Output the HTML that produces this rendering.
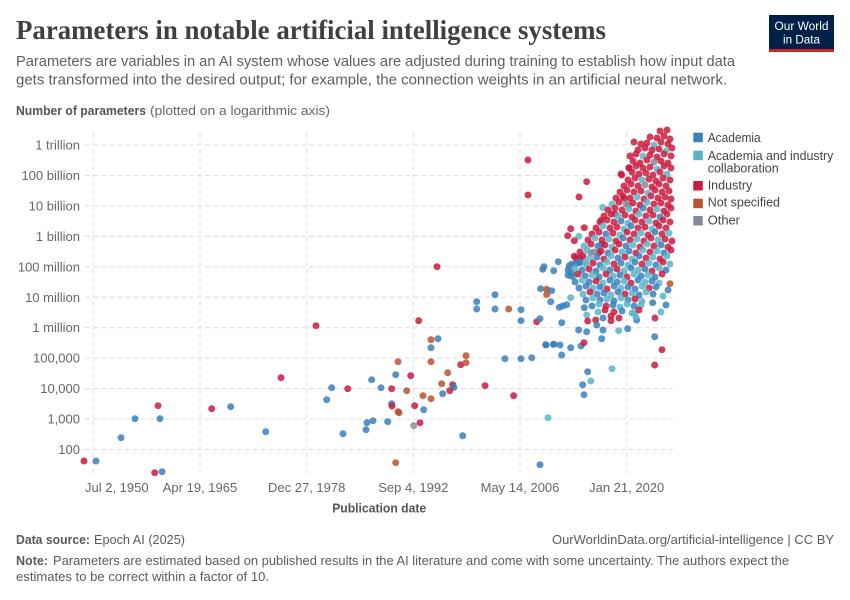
<!DOCTYPE html>
<html><head><meta charset="utf-8"><style>
body{margin:0;background:#fff}
svg{display:block}
text{font-family:"Liberation Sans",sans-serif}
.a{fill:#3a80ba}.c{fill:#5ab4c7}.i{fill:#c81c40}.o{fill:#b9542e}.g{fill:#858b96}
circle{fill-opacity:.85}
.gl{stroke:#dcdcdc;stroke-width:1;stroke-dasharray:4.5,3.5;fill:none}
.tk{font-size:13px;fill:#666}
</style></head><body>
<svg width="850" height="600" viewBox="0 0 850 600" xmlns="http://www.w3.org/2000/svg">
<rect width="850" height="600" fill="#fff"/>
<text x="16" y="39" font-family="Liberation Serif,serif" style="font-family:'Liberation Serif',serif" font-size="27" font-weight="bold" fill="#404040" textLength="590" lengthAdjust="spacingAndGlyphs">Parameters in notable artificial intelligence systems</text>
<rect x="769" y="15" width="65" height="35" fill="#002147"/>
<rect x="769" y="49" width="65" height="3" fill="#ce261e"/>
<text x="801.5" y="30" font-size="11.5" fill="#fff" text-anchor="middle" textLength="54" lengthAdjust="spacingAndGlyphs">Our World</text>
<text x="801.5" y="43.5" font-size="11.5" fill="#fff" text-anchor="middle" textLength="37" lengthAdjust="spacingAndGlyphs">in Data</text>
<text x="16" y="66" font-size="14.5" fill="#5e5e5e" textLength="719" lengthAdjust="spacingAndGlyphs">Parameters are variables in an AI system whose values are adjusted during training to establish how input data</text>
<text x="16" y="84.5" font-size="14.5" fill="#5e5e5e" textLength="711" lengthAdjust="spacingAndGlyphs">gets transformed into the desired output; for example, the connection weights in an artificial neural network.</text>
<text x="16" y="115" font-size="13" font-weight="bold" fill="#555" textLength="130" lengthAdjust="spacingAndGlyphs">Number of parameters</text>
<text x="150" y="115" font-size="13" fill="#666" textLength="180" lengthAdjust="spacingAndGlyphs">(plotted on a logarithmic axis)</text>

<!-- gridlines -->
<g class="gl">
<path d="M85 145H673M85 175.45H673M85 205.9H673M85 236.35H673M85 266.8H673M85 297.25H673M85 327.7H673M85 358.15H673M85 388.6H673M85 419.05H673M85 449.5H673"/>
<path d="M93.3 133V474M200 133V474M306.7 133V474M413.3 133V474M520 133V474M626.7 133V474"/>
</g>
<g class="tk" text-anchor="end">
<text x="80" y="149.5">1 trillion</text>
<text x="80" y="180">100 billion</text>
<text x="80" y="210.4">10 billion</text>
<text x="80" y="240.9">1 billion</text>
<text x="80" y="271.3">100 million</text>
<text x="80" y="301.8">10 million</text>
<text x="80" y="332.2">1 million</text>
<text x="80" y="362.7">100,000</text>
<text x="80" y="393.1">10,000</text>
<text x="80" y="423.6">1,000</text>
<text x="80" y="454">100</text>
</g>
<g class="tk" text-anchor="middle">
<text x="85" y="492" text-anchor="start">Jul 2, 1950</text>
<text x="200" y="492">Apr 19, 1965</text>
<text x="306.7" y="492">Dec 27, 1978</text>
<text x="413.3" y="492">Sep 4, 1992</text>
<text x="520" y="492">May 14, 2006</text>
<text x="626.7" y="492">Jan 21, 2020</text>
</g>
<text x="379.2" y="512.5" font-size="13" font-weight="bold" fill="#555" text-anchor="middle" textLength="94" lengthAdjust="spacingAndGlyphs">Publication date</text>

<!-- sparse points -->
<g>
<circle class="i" cx="84" cy="461" r="3.5"/><circle class="a" cx="96" cy="461" r="3.5"/><circle class="a" cx="121" cy="437.7" r="3.5"/><circle class="a" cx="135" cy="418.7" r="3.5"/><circle class="i" cx="158" cy="405.7" r="3.5"/><circle class="a" cx="160" cy="418.7" r="3.5"/><circle class="i" cx="154.7" cy="472.7" r="3.5"/><circle class="a" cx="162" cy="471.7" r="3.5"/><circle class="i" cx="211.7" cy="408.7" r="3.5"/><circle class="a" cx="230.7" cy="406.7" r="3.5"/><circle class="a" cx="265.7" cy="431.7" r="3.5"/><circle class="i" cx="281" cy="377.7" r="3.5"/>
<circle class="i" cx="437" cy="266.7" r="3.5"/><circle class="i" cx="316" cy="325.7" r="3.5"/><circle class="i" cx="418.7" cy="320.7" r="3.5"/><circle class="a" cx="476.7" cy="301.7" r="3.5"/><circle class="a" cx="476.7" cy="309" r="3.5"/><circle class="a" cx="495" cy="294.7" r="3.5"/><circle class="a" cx="495" cy="309" r="3.5"/><circle class="o" cx="508.7" cy="309" r="3.5"/><circle class="a" cx="521" cy="309.7" r="3.5"/><circle class="a" cx="521" cy="320.7" r="3.5"/><circle class="i" cx="536.7" cy="321.7" r="3.5"/><circle class="a" cx="540" cy="318.7" r="3.5"/><circle class="a" cx="542.7" cy="269.3" r="3.5"/><circle class="a" cx="544" cy="266.7" r="3.5"/><circle class="a" cx="553.7" cy="270.7" r="3.5"/><circle class="a" cx="558.3" cy="261.7" r="3.5"/><circle class="a" cx="540.7" cy="288.7" r="3.5"/><circle class="o" cx="546.7" cy="289.3" r="3.5"/><circle class="o" cx="546.7" cy="294.5" r="3.5"/><circle class="a" cx="551.7" cy="290.7" r="3.5"/><circle class="a" cx="550.7" cy="301.7" r="3.5"/><circle class="a" cx="545.7" cy="344.7" r="3.5"/><circle class="a" cx="553.3" cy="344.3" r="3.5"/><circle class="a" cx="505" cy="358.7" r="3.5"/><circle class="a" cx="521" cy="358.7" r="3.5"/><circle class="a" cx="531.7" cy="357.7" r="3.5"/><circle class="i" cx="513.7" cy="395.7" r="3.5"/><circle class="i" cx="485" cy="385.7" r="3.5"/><circle class="c" cx="548" cy="417.7" r="3.5"/><circle class="a" cx="540" cy="464.7" r="3.5"/><circle class="a" cx="462.7" cy="435.7" r="3.5"/>
<circle class="o" cx="431" cy="339.7" r="3.5"/><circle class="a" cx="438" cy="338.7" r="3.5"/><circle class="a" cx="431" cy="347.7" r="3.5"/><circle class="o" cx="431" cy="361.7" r="3.5"/><circle class="o" cx="398" cy="361.7" r="3.5"/><circle class="a" cx="395.7" cy="374.7" r="3.5"/><circle class="i" cx="410.7" cy="375.7" r="3.5"/><circle class="a" cx="371.7" cy="379.7" r="3.5"/><circle class="a" cx="381" cy="387.7" r="3.5"/><circle class="i" cx="391.7" cy="388.7" r="3.5"/><circle class="o" cx="406.7" cy="390.7" r="3.5"/><circle class="i" cx="347.7" cy="388.7" r="3.5"/><circle class="a" cx="331.7" cy="387.7" r="3.5"/><circle class="a" cx="326.7" cy="399.7" r="3.5"/><circle class="a" cx="343" cy="433.7" r="3.5"/><circle class="a" cx="366" cy="429.7" r="3.5"/><circle class="a" cx="367" cy="422.7" r="3.5"/><circle class="a" cx="373" cy="420.7" r="3.5"/><circle class="a" cx="387.7" cy="421.7" r="3.5"/><circle class="a" cx="391.7" cy="403.7" r="3.5"/><circle class="i" cx="392" cy="406" r="3.5"/><circle class="o" cx="398" cy="411.7" r="3.5"/><circle class="o" cx="399" cy="412.7" r="3.5"/><circle class="g" cx="413.7" cy="425.7" r="3.5"/><circle class="i" cx="420" cy="422.7" r="3.5"/><circle class="i" cx="414.7" cy="405.7" r="3.5"/><circle class="a" cx="423.7" cy="409.7" r="3.5"/><circle class="o" cx="423" cy="395.7" r="3.5"/><circle class="o" cx="431" cy="398.7" r="3.5"/><circle class="a" cx="442.7" cy="393.7" r="3.5"/><circle class="o" cx="441.7" cy="383.7" r="3.5"/><circle class="o" cx="447.7" cy="372.7" r="3.5"/><circle class="i" cx="452.7" cy="384.7" r="3.5"/><circle class="a" cx="454" cy="387.3" r="3.5"/><circle class="i" cx="449.7" cy="390.7" r="3.5"/><circle class="i" cx="460.7" cy="364.7" r="3.5"/><circle class="o" cx="466" cy="362.7" r="3.5"/><circle class="o" cx="466" cy="355.7" r="3.5"/><circle class="o" cx="395.7" cy="462.7" r="3.5"/><circle class="i" cx="528" cy="160" r="3.5"/><circle class="i" cx="528" cy="195" r="3.5"/>
<circle class="i" cx="586.7" cy="181.7" r="3.5"/><circle class="i" cx="579" cy="197" r="3.5"/><circle class="c" cx="602.7" cy="207.5" r="3.5"/><circle class="i" cx="601" cy="220.5" r="3.5"/><circle class="i" cx="570.7" cy="228.7" r="3.5"/><circle class="i" cx="584.3" cy="227.7" r="3.5"/><circle class="c" cx="579" cy="236.3" r="3.5"/><circle class="i" cx="567.7" cy="235.7" r="3.5"/><circle class="i" cx="574.3" cy="240.7" r="3.5"/><circle class="a" cx="601.7" cy="244" r="3.5"/><circle class="g" cx="590.7" cy="252.7" r="3.5"/><circle class="i" cx="599" cy="252.7" r="3.5"/><circle class="a" cx="569.3" cy="265.7" r="3.5"/><circle class="a" cx="576" cy="264" r="3.5"/><circle class="a" cx="580" cy="262.7" r="3.5"/><circle class="c" cx="585" cy="261.7" r="3.5"/><circle class="a" cx="568" cy="275" r="3.5"/><circle class="c" cx="573.3" cy="276.7" r="3.5"/><circle class="a" cx="571.7" cy="272.3" r="3.5"/><circle class="i" cx="574.3" cy="256.3" r="3.5"/><circle class="i" cx="580" cy="257.7" r="3.5"/><circle class="o" cx="670" cy="283.7" r="3.5"/><circle class="a" cx="559.3" cy="307.3" r="3.5"/><circle class="a" cx="562.7" cy="306" r="3.5"/><circle class="a" cx="566.7" cy="304.7" r="3.5"/><circle class="c" cx="570.7" cy="297.7" r="3.5"/><circle class="a" cx="561.7" cy="322.7" r="3.5"/><circle class="a" cx="584.3" cy="307.7" r="3.5"/><circle class="c" cx="586.7" cy="315" r="3.5"/><circle class="a" cx="578.7" cy="330" r="3.5"/><circle class="a" cx="586.7" cy="331.7" r="3.5"/><circle class="a" cx="603" cy="330" r="3.5"/><circle class="a" cx="601.7" cy="338.7" r="3.5"/><circle class="c" cx="618.7" cy="330.7" r="3.5"/><circle class="a" cx="627.7" cy="328.7" r="3.5"/><circle class="i" cx="587.7" cy="321" r="3.5"/><circle class="i" cx="595.7" cy="320" r="3.5"/><circle class="a" cx="596.7" cy="325" r="3.5"/><circle class="i" cx="611" cy="320.7" r="3.5"/><circle class="c" cx="634.3" cy="313.3" r="3.5"/><circle class="a" cx="636.7" cy="320" r="3.5"/><circle class="a" cx="546" cy="345" r="3.5"/><circle class="a" cx="554" cy="344.3" r="3.5"/><circle class="a" cx="560" cy="345" r="3.5"/><circle class="a" cx="561.7" cy="355" r="3.5"/><circle class="a" cx="570.7" cy="347.7" r="3.5"/><circle class="a" cx="581" cy="346" r="3.5"/><circle class="i" cx="584" cy="342.7" r="3.5"/><circle class="a" cx="587.7" cy="371.7" r="3.5"/><circle class="c" cx="590.7" cy="381" r="3.5"/><circle class="a" cx="582.7" cy="384.7" r="3.5"/><circle class="a" cx="584" cy="394.7" r="3.5"/><circle class="c" cx="612" cy="368.7" r="3.5"/><circle class="a" cx="654.7" cy="336.7" r="3.5"/><circle class="i" cx="662" cy="349.7" r="3.5"/><circle class="i" cx="654.7" cy="365" r="3.5"/><circle class="a" cx="652.7" cy="302.7" r="3.5"/><circle class="i" cx="629" cy="167.7" r="3.5"/><circle class="i" cx="621.7" cy="175" r="3.5"/><circle class="i" cx="624.3" cy="198.3" r="3.5"/><circle class="i" cx="615" cy="214" r="3.5"/><circle class="g" cx="628.3" cy="205" r="3.5"/>
</g>
<!-- dense cluster -->
<g>
<circle class="i" cx="660" cy="131" r="3.5"/><circle class="i" cx="667" cy="130" r="3.5"/>
<circle class="i" cx="650" cy="137" r="3.5"/><circle class="i" cx="657" cy="138" r="3.5"/><circle class="i" cx="664" cy="136" r="3.5"/><circle class="i" cx="670" cy="139" r="3.5"/>
<circle class="i" cx="634" cy="142" r="3.5"/><circle class="i" cx="641" cy="144" r="3.5"/><circle class="i" cx="647" cy="143" r="3.5"/><circle class="c" cx="654" cy="145" r="3.5"/><circle class="i" cx="661" cy="142" r="3.5"/><circle class="i" cx="668" cy="144" r="3.5"/>
<circle class="i" cx="638" cy="150" r="3.5"/><circle class="i" cx="645" cy="148" r="3.5"/><circle class="i" cx="652" cy="150" r="3.5"/><circle class="i" cx="659" cy="149" r="3.5"/><circle class="c" cx="666" cy="151" r="3.5"/><circle class="i" cx="672" cy="148" r="3.5"/>
<circle class="i" cx="630" cy="156" r="3.5"/><circle class="i" cx="636" cy="154" r="3.5"/><circle class="c" cx="643" cy="156" r="3.5"/><circle class="i" cx="650" cy="155" r="3.5"/><circle class="i" cx="657" cy="157" r="3.5"/><circle class="i" cx="664" cy="154" r="3.5"/><circle class="i" cx="671" cy="156" r="3.5"/>
<circle class="i" cx="633" cy="161" r="3.5"/><circle class="i" cx="640" cy="163" r="3.5"/><circle class="i" cx="647" cy="160" r="3.5"/><circle class="g" cx="654" cy="162" r="3.5"/><circle class="i" cx="661" cy="161" r="3.5"/><circle class="i" cx="668" cy="163" r="3.5"/>
<circle class="i" cx="629" cy="168" r="3.5"/><circle class="i" cx="636" cy="166" r="3.5"/><circle class="i" cx="643" cy="168" r="3.5"/><circle class="i" cx="650" cy="167" r="3.5"/><circle class="c" cx="657" cy="169" r="3.5"/><circle class="i" cx="664" cy="166" r="3.5"/><circle class="i" cx="671" cy="168" r="3.5"/>
<circle class="i" cx="621" cy="174" r="3.5"/><circle class="i" cx="632" cy="172" r="3.5"/><circle class="i" cx="639" cy="174" r="3.5"/><circle class="i" cx="646" cy="173" r="3.5"/><circle class="i" cx="653" cy="175" r="3.5"/><circle class="i" cx="660" cy="172" r="3.5"/><circle class="c" cx="667" cy="174" r="3.5"/>
<circle class="i" cx="628" cy="180" r="3.5"/><circle class="i" cx="635" cy="178" r="3.5"/><circle class="c" cx="642" cy="180" r="3.5"/><circle class="i" cx="649" cy="179" r="3.5"/><circle class="i" cx="656" cy="181" r="3.5"/><circle class="i" cx="663" cy="178" r="3.5"/><circle class="i" cx="670" cy="180" r="3.5"/>
<circle class="i" cx="624" cy="186" r="3.5"/><circle class="i" cx="631" cy="184" r="3.5"/><circle class="i" cx="638" cy="186" r="3.5"/><circle class="g" cx="645" cy="185" r="3.5"/><circle class="i" cx="652" cy="187" r="3.5"/><circle class="i" cx="659" cy="184" r="3.5"/><circle class="i" cx="666" cy="186" r="3.5"/>
<circle class="i" cx="620" cy="192" r="3.5"/><circle class="i" cx="627" cy="190" r="3.5"/><circle class="i" cx="634" cy="192" r="3.5"/><circle class="i" cx="641" cy="191" r="3.5"/><circle class="c" cx="648" cy="193" r="3.5"/><circle class="i" cx="655" cy="190" r="3.5"/><circle class="i" cx="662" cy="192" r="3.5"/><circle class="i" cx="669" cy="191" r="3.5"/>
<circle class="i" cx="616" cy="198" r="3.5"/><circle class="i" cx="623" cy="196" r="3.5"/><circle class="i" cx="630" cy="198" r="3.5"/><circle class="c" cx="637" cy="197" r="3.5"/><circle class="i" cx="644" cy="199" r="3.5"/><circle class="i" cx="651" cy="196" r="3.5"/><circle class="i" cx="658" cy="198" r="3.5"/><circle class="i" cx="665" cy="197" r="3.5"/><circle class="i" cx="671" cy="199" r="3.5"/>
<circle class="c" cx="612" cy="204" r="3.5"/><circle class="i" cx="619" cy="202" r="3.5"/><circle class="g" cx="626" cy="204" r="3.5"/><circle class="i" cx="633" cy="203" r="3.5"/><circle class="i" cx="640" cy="205" r="3.5"/><circle class="c" cx="647" cy="202" r="3.5"/><circle class="i" cx="654" cy="204" r="3.5"/><circle class="i" cx="661" cy="203" r="3.5"/><circle class="i" cx="668" cy="205" r="3.5"/>
<circle class="i" cx="608" cy="210" r="3.5"/><circle class="i" cx="615" cy="208" r="3.5"/><circle class="i" cx="622" cy="210" r="3.5"/><circle class="c" cx="629" cy="209" r="3.5"/><circle class="i" cx="636" cy="211" r="3.5"/><circle class="a" cx="643" cy="208" r="3.5"/><circle class="i" cx="650" cy="210" r="3.5"/><circle class="c" cx="657" cy="209" r="3.5"/><circle class="i" cx="664" cy="211" r="3.5"/><circle class="i" cx="671" cy="208" r="3.5"/>
<circle class="i" cx="604" cy="216" r="3.5"/><circle class="i" cx="611" cy="214" r="3.5"/><circle class="c" cx="618" cy="216" r="3.5"/><circle class="i" cx="625" cy="215" r="3.5"/><circle class="i" cx="632" cy="217" r="3.5"/><circle class="c" cx="639" cy="214" r="3.5"/><circle class="i" cx="646" cy="216" r="3.5"/><circle class="i" cx="653" cy="215" r="3.5"/><circle class="a" cx="660" cy="217" r="3.5"/><circle class="i" cx="667" cy="214" r="3.5"/>
<circle class="i" cx="600" cy="222" r="3.5"/><circle class="i" cx="607" cy="220" r="3.5"/><circle class="i" cx="614" cy="222" r="3.5"/><circle class="a" cx="621" cy="221" r="3.5"/><circle class="c" cx="628" cy="223" r="3.5"/><circle class="i" cx="635" cy="220" r="3.5"/><circle class="i" cx="642" cy="222" r="3.5"/><circle class="c" cx="649" cy="221" r="3.5"/><circle class="i" cx="656" cy="223" r="3.5"/><circle class="i" cx="663" cy="220" r="3.5"/><circle class="i" cx="670" cy="222" r="3.5"/>
<circle class="i" cx="596" cy="228" r="3.5"/><circle class="c" cx="603" cy="226" r="3.5"/><circle class="i" cx="610" cy="228" r="3.5"/><circle class="i" cx="617" cy="227" r="3.5"/><circle class="c" cx="624" cy="229" r="3.5"/><circle class="a" cx="631" cy="226" r="3.5"/><circle class="i" cx="638" cy="228" r="3.5"/><circle class="i" cx="645" cy="227" r="3.5"/><circle class="c" cx="652" cy="229" r="3.5"/><circle class="i" cx="659" cy="226" r="3.5"/><circle class="i" cx="666" cy="228" r="3.5"/>
<circle class="i" cx="592" cy="234" r="3.5"/><circle class="i" cx="599" cy="232" r="3.5"/><circle class="a" cx="606" cy="234" r="3.5"/><circle class="i" cx="613" cy="233" r="3.5"/><circle class="c" cx="620" cy="235" r="3.5"/><circle class="i" cx="627" cy="232" r="3.5"/><circle class="i" cx="634" cy="234" r="3.5"/><circle class="c" cx="641" cy="233" r="3.5"/><circle class="i" cx="648" cy="235" r="3.5"/><circle class="a" cx="655" cy="232" r="3.5"/><circle class="i" cx="662" cy="234" r="3.5"/><circle class="c" cx="669" cy="233" r="3.5"/>
<circle class="i" cx="588" cy="240" r="3.5"/><circle class="c" cx="595" cy="238" r="3.5"/><circle class="i" cx="602" cy="240" r="3.5"/><circle class="c" cx="609" cy="239" r="3.5"/><circle class="i" cx="616" cy="241" r="3.5"/><circle class="a" cx="623" cy="238" r="3.5"/><circle class="i" cx="630" cy="240" r="3.5"/><circle class="c" cx="637" cy="239" r="3.5"/><circle class="i" cx="644" cy="241" r="3.5"/><circle class="i" cx="651" cy="238" r="3.5"/><circle class="c" cx="658" cy="240" r="3.5"/><circle class="i" cx="665" cy="239" r="3.5"/><circle class="i" cx="672" cy="241" r="3.5"/>
<circle class="c" cx="584" cy="246" r="3.5"/><circle class="i" cx="591" cy="244" r="3.5"/><circle class="a" cx="598" cy="246" r="3.5"/><circle class="i" cx="605" cy="245" r="3.5"/><circle class="c" cx="612" cy="247" r="3.5"/><circle class="i" cx="619" cy="244" r="3.5"/><circle class="a" cx="626" cy="246" r="3.5"/><circle class="c" cx="633" cy="245" r="3.5"/><circle class="i" cx="640" cy="247" r="3.5"/><circle class="c" cx="647" cy="244" r="3.5"/><circle class="i" cx="654" cy="246" r="3.5"/><circle class="a" cx="661" cy="245" r="3.5"/><circle class="i" cx="668" cy="247" r="3.5"/>
<circle class="i" cx="580" cy="252" r="3.5"/><circle class="c" cx="587" cy="250" r="3.5"/><circle class="g" cx="594" cy="252" r="3.5"/><circle class="i" cx="601" cy="251" r="3.5"/><circle class="a" cx="608" cy="253" r="3.5"/><circle class="i" cx="615" cy="250" r="3.5"/><circle class="c" cx="622" cy="252" r="3.5"/><circle class="a" cx="629" cy="251" r="3.5"/><circle class="i" cx="636" cy="253" r="3.5"/><circle class="c" cx="643" cy="250" r="3.5"/><circle class="i" cx="650" cy="252" r="3.5"/><circle class="c" cx="657" cy="251" r="3.5"/><circle class="a" cx="664" cy="253" r="3.5"/><circle class="i" cx="671" cy="250" r="3.5"/>
<circle class="i" cx="576" cy="258" r="3.5"/><circle class="i" cx="583" cy="256" r="3.5"/><circle class="c" cx="590" cy="258" r="3.5"/><circle class="a" cx="597" cy="257" r="3.5"/><circle class="i" cx="604" cy="259" r="3.5"/><circle class="c" cx="611" cy="256" r="3.5"/><circle class="a" cx="618" cy="258" r="3.5"/><circle class="i" cx="625" cy="257" r="3.5"/><circle class="c" cx="632" cy="259" r="3.5"/><circle class="a" cx="639" cy="256" r="3.5"/><circle class="i" cx="646" cy="258" r="3.5"/><circle class="c" cx="653" cy="257" r="3.5"/><circle class="i" cx="660" cy="259" r="3.5"/><circle class="c" cx="667" cy="256" r="3.5"/>
<circle class="a" cx="572" cy="264" r="3.5"/><circle class="a" cx="579" cy="262" r="3.5"/><circle class="c" cx="586" cy="264" r="3.5"/><circle class="i" cx="593" cy="263" r="3.5"/><circle class="a" cx="600" cy="265" r="3.5"/><circle class="c" cx="607" cy="262" r="3.5"/><circle class="i" cx="614" cy="264" r="3.5"/><circle class="a" cx="621" cy="263" r="3.5"/><circle class="c" cx="628" cy="265" r="3.5"/><circle class="a" cx="635" cy="262" r="3.5"/><circle class="i" cx="642" cy="264" r="3.5"/><circle class="c" cx="649" cy="263" r="3.5"/><circle class="a" cx="656" cy="265" r="3.5"/><circle class="i" cx="663" cy="262" r="3.5"/><circle class="c" cx="670" cy="264" r="3.5"/>
<circle class="a" cx="568" cy="270" r="3.5"/><circle class="c" cx="575" cy="268" r="3.5"/><circle class="a" cx="582" cy="270" r="3.5"/><circle class="i" cx="589" cy="269" r="3.5"/><circle class="a" cx="596" cy="271" r="3.5"/><circle class="c" cx="603" cy="268" r="3.5"/><circle class="a" cx="610" cy="270" r="3.5"/><circle class="i" cx="617" cy="269" r="3.5"/><circle class="c" cx="624" cy="271" r="3.5"/><circle class="a" cx="631" cy="268" r="3.5"/><circle class="c" cx="638" cy="270" r="3.5"/><circle class="a" cx="645" cy="269" r="3.5"/><circle class="i" cx="652" cy="271" r="3.5"/><circle class="c" cx="659" cy="268" r="3.5"/><circle class="a" cx="666" cy="270" r="3.5"/>
<circle class="a" cx="571" cy="276" r="3.5"/><circle class="i" cx="578" cy="274" r="3.5"/><circle class="a" cx="585" cy="276" r="3.5"/><circle class="c" cx="592" cy="275" r="3.5"/><circle class="a" cx="599" cy="277" r="3.5"/><circle class="i" cx="606" cy="274" r="3.5"/><circle class="c" cx="613" cy="276" r="3.5"/><circle class="a" cx="620" cy="275" r="3.5"/><circle class="i" cx="627" cy="277" r="3.5"/><circle class="c" cx="634" cy="274" r="3.5"/><circle class="a" cx="641" cy="276" r="3.5"/><circle class="c" cx="648" cy="275" r="3.5"/><circle class="a" cx="655" cy="277" r="3.5"/><circle class="i" cx="662" cy="274" r="3.5"/>
<circle class="a" cx="575" cy="282" r="3.5"/><circle class="c" cx="582" cy="280" r="3.5"/><circle class="a" cx="589" cy="282" r="3.5"/><circle class="i" cx="596" cy="281" r="3.5"/><circle class="c" cx="603" cy="283" r="3.5"/><circle class="a" cx="610" cy="280" r="3.5"/><circle class="a" cx="617" cy="282" r="3.5"/><circle class="c" cx="624" cy="281" r="3.5"/><circle class="i" cx="631" cy="283" r="3.5"/><circle class="a" cx="638" cy="280" r="3.5"/><circle class="c" cx="645" cy="282" r="3.5"/><circle class="a" cx="652" cy="281" r="3.5"/><circle class="c" cx="659" cy="283" r="3.5"/>
<circle class="a" cx="579" cy="288" r="3.5"/><circle class="a" cx="586" cy="286" r="3.5"/><circle class="c" cx="593" cy="288" r="3.5"/><circle class="a" cx="600" cy="287" r="3.5"/><circle class="i" cx="607" cy="289" r="3.5"/><circle class="a" cx="614" cy="286" r="3.5"/><circle class="c" cx="621" cy="288" r="3.5"/><circle class="a" cx="628" cy="287" r="3.5"/><circle class="a" cx="635" cy="289" r="3.5"/><circle class="c" cx="642" cy="286" r="3.5"/><circle class="i" cx="649" cy="288" r="3.5"/><circle class="a" cx="656" cy="287" r="3.5"/>
<circle class="c" cx="583" cy="294" r="3.5"/><circle class="i" cx="590" cy="292" r="3.5"/><circle class="a" cx="597" cy="294" r="3.5"/><circle class="a" cx="604" cy="293" r="3.5"/><circle class="c" cx="611" cy="295" r="3.5"/><circle class="a" cx="618" cy="292" r="3.5"/><circle class="i" cx="625" cy="294" r="3.5"/><circle class="c" cx="632" cy="293" r="3.5"/><circle class="a" cx="639" cy="295" r="3.5"/><circle class="c" cx="646" cy="292" r="3.5"/><circle class="a" cx="653" cy="294" r="3.5"/>
<circle class="a" cx="586" cy="300" r="3.5"/><circle class="c" cx="593" cy="298" r="3.5"/><circle class="a" cx="600" cy="300" r="3.5"/><circle class="c" cx="607" cy="299" r="3.5"/><circle class="a" cx="614" cy="301" r="3.5"/><circle class="c" cx="621" cy="298" r="3.5"/><circle class="a" cx="628" cy="300" r="3.5"/><circle class="i" cx="635" cy="299" r="3.5"/><circle class="c" cx="642" cy="301" r="3.5"/>
<circle class="a" cx="592" cy="306" r="3.5"/><circle class="c" cx="599" cy="304" r="3.5"/><circle class="i" cx="606" cy="306" r="3.5"/><circle class="a" cx="613" cy="305" r="3.5"/><circle class="c" cx="620" cy="307" r="3.5"/><circle class="c" cx="627" cy="304" r="3.5"/><circle class="a" cx="634" cy="306" r="3.5"/><circle class="c" cx="641" cy="305" r="3.5"/>
<circle class="c" cx="598" cy="312" r="3.5"/><circle class="i" cx="605" cy="310" r="3.5"/><circle class="i" cx="614" cy="312" r="3.5"/><circle class="a" cx="622" cy="311" r="3.5"/><circle class="c" cx="632" cy="313" r="3.5"/><circle class="i" cx="639" cy="310" r="3.5"/>
<circle class="a" cx="603" cy="318" r="3.5"/><circle class="i" cx="611" cy="316" r="3.5"/><circle class="i" cx="619" cy="318" r="3.5"/><circle class="c" cx="636" cy="317" r="3.5"/>
<circle class="a" cx="666" cy="305" r="3.5"/><circle class="c" cx="663" cy="296" r="3.5"/><circle class="a" cx="668" cy="290" r="3.5"/><circle class="c" cx="661" cy="312" r="3.5"/><circle class="i" cx="655" cy="318" r="3.5"/>
</g>

<!-- legend -->
<rect x="693.3" y="132.7" width="9.5" height="9.5" fill="#3a80ba"/>
<rect x="693.3" y="150.7" width="9.5" height="9.5" fill="#5ab4c7"/>
<rect x="693.3" y="181" width="9.5" height="9.5" fill="#c81c40"/>
<rect x="693.3" y="198.7" width="9.5" height="9.5" fill="#b9542e"/>
<rect x="693.3" y="216" width="9.5" height="9.5" fill="#858b96"/>
<g font-size="13" fill="#444">
<text x="707.7" y="142" textLength="53" lengthAdjust="spacingAndGlyphs">Academia</text>
<text x="707.7" y="160" textLength="125.6" lengthAdjust="spacingAndGlyphs">Academia and industry</text>
<text x="707.7" y="172.7" textLength="71" lengthAdjust="spacingAndGlyphs">collaboration</text>
<text x="707.7" y="189.5" textLength="44.6" lengthAdjust="spacingAndGlyphs">Industry</text>
<text x="707.7" y="206.5" textLength="72.3" lengthAdjust="spacingAndGlyphs">Not specified</text>
<text x="707.7" y="224.3" textLength="32.3" lengthAdjust="spacingAndGlyphs">Other</text>
</g>

<!-- footer -->
<g font-size="13" fill="#5b5b5b">
<text x="16" y="544" font-weight="bold" textLength="74" lengthAdjust="spacingAndGlyphs">Data source:</text>
<text x="94" y="544" textLength="91" lengthAdjust="spacingAndGlyphs">Epoch AI (2025)</text>
<text x="834" y="544" text-anchor="end" textLength="282" lengthAdjust="spacingAndGlyphs">OurWorldinData.org/artificial-intelligence | CC BY</text>
<text x="16" y="565" font-weight="bold" textLength="32" lengthAdjust="spacingAndGlyphs">Note:</text>
<text x="53" y="565" textLength="736" lengthAdjust="spacingAndGlyphs">Parameters are estimated based on published results in the AI literature and come with some uncertainty. The authors expect the</text>
<text x="16" y="581" textLength="253" lengthAdjust="spacingAndGlyphs">estimates to be correct within a factor of 10.</text>
</g>
</svg>
</body></html>
